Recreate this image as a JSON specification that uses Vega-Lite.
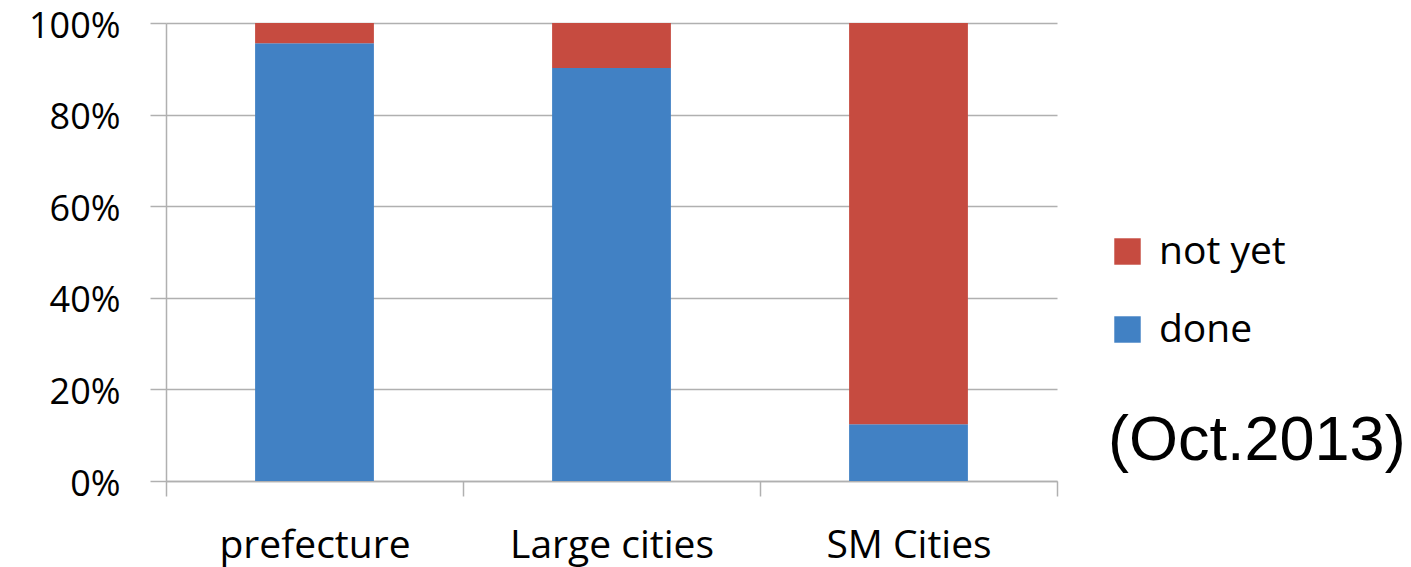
{
  "$schema": "https://vega.github.io/schema/vega-lite/v6.json",
  "autosize": {"type": "none"},
  "width": 891,
  "height": 458,
  "padding": {"left": 166, "top": 23, "right": 354, "bottom": 86},
  "background": "white",
  "data": {
    "values": [
      {"category": "prefecture", "status": "done", "ord": 0, "value": 0.956},
      {"category": "prefecture", "status": "not yet", "ord": 1, "value": 0.044},
      {"category": "Large cities", "status": "done", "ord": 0, "value": 0.902},
      {"category": "Large cities", "status": "not yet", "ord": 1, "value": 0.098},
      {"category": "SM Cities", "status": "done", "ord": 0, "value": 0.124},
      {"category": "SM Cities", "status": "not yet", "ord": 1, "value": 0.876}
    ]
  },
  "mark": {"type": "bar", "width": {"band": 0.4}},
  "encoding": {
    "x": {
      "field": "category",
      "type": "nominal",
      "sort": ["prefecture", "Large cities", "SM Cities"],
      "scale": {"paddingInner": 0, "paddingOuter": 0},
      "axis": {
        "title": null,
        "labelAngle": 0,
        "tickBand": "extent",
        "tickSize": 15,
        "tickColor": "#b0b0b0",
        "tickWidth": 1.5,
        "domainColor": "#b0b0b0",
        "domainWidth": 1.5,
        "labelFont": "Open Sans",
        "labelFontSize": 39,
        "labelColor": "#000000",
        "labelPadding": 30,
        "labelLimit": 400,
        "grid": false
      }
    },
    "y": {
      "field": "value",
      "type": "quantitative",
      "stack": "zero",
      "scale": {"domain": [0, 1], "nice": false},
      "axis": {
        "title": null,
        "format": ".0%",
        "values": [0, 0.2, 0.4, 0.6, 0.8, 1],
        "tickSize": 16,
        "tickColor": "#b0b0b0",
        "tickWidth": 1.5,
        "domainColor": "#b0b0b0",
        "domainWidth": 1.5,
        "gridColor": "#b0b0b0",
        "gridWidth": 1.5,
        "labelFont": "Open Sans",
        "labelFontSize": 36,
        "labelColor": "#000000",
        "labelPadding": 30,
        "labelOffset": 3
      }
    },
    "color": {
      "field": "status",
      "type": "nominal",
      "scale": {"domain": ["not yet", "done"], "range": ["#c64b40", "#4181c4"]},
      "legend": {
        "title": "(Oct.2013)",
        "titleOrient": "bottom",
        "titleFont": "Liberation Sans",
        "titleFontSize": 63,
        "titleFontWeight": "normal",
        "titleColor": "#000000",
        "titlePadding": 60,
        "titleLimit": 500,
        "orient": "none",
        "legendX": 942,
        "legendY": 209,
        "symbolType": "square",
        "symbolSize": 700,
        "symbolStrokeWidth": 0,
        "labelFont": "Open Sans",
        "labelFontSize": 39,
        "labelColor": "#000000",
        "labelOffset": 12,
        "labelLimit": 300,
        "rowPadding": 38
      }
    },
    "order": {"field": "ord", "type": "quantitative"}
  },
  "config": {"view": {"stroke": null}}
}
